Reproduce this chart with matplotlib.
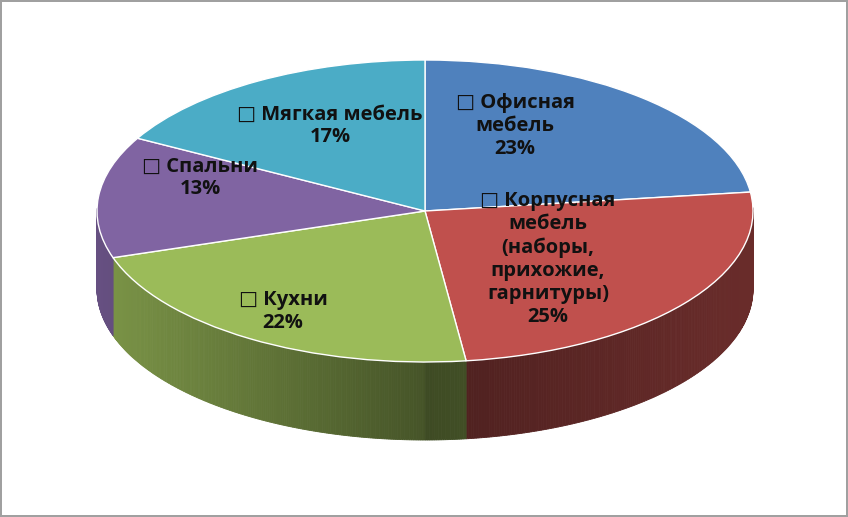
import numpy as np
import matplotlib
matplotlib.use("Agg")
import matplotlib.pyplot as plt
from matplotlib.colors import to_rgb

categories = ["Офисная\nмебель", "Корпусная\nмебель\n(наборы,\nприхожие,\nгарнитуры)", "Кухни", "Спальни", "Мягкая мебель"]
values = [23, 25, 22, 13, 17]
colors = ["#4F81BD", "#C0504D", "#9BBB59", "#8064A2", "#4BACC6"]

W, H = 848, 517
cx, cy, rx, ry, depth = 425, 211, 328, 151, 78

fig = plt.figure(figsize=(W/100, H/100), dpi=100)
ax = fig.add_axes([0, 0, 1, 1])
ax.axis("off")
d = depth/ry

def px(x, y):
    return (x-cx)/rx, (cy-y)/ry

total = sum(values)
start = 90.0
for v, c in zip(values, colors):
    a1 = start - 360*v/total
    a0 = start
    start = a1
    angs = np.linspace(a1, a0, 200)
    for i in range(len(angs)-1):
        t0, t1 = np.radians(angs[i]), np.radians(angs[i+1])
        tm = (t0+t1)/2
        if np.sin(tm) >= 0.02:
            continue
        x0, x1 = np.cos(t0), np.cos(t1)
        y0, y1 = np.sin(t0), np.sin(t1)
        xm = np.cos(tm)
        if xm < 0:
            shade = 0.8 - 0.35*(xm+1)
        else:
            shade = 0.4 + 0.15*xm
        col = tuple(min(1, k*shade) for k in to_rgb(c))
        ax.fill([x0, x1, x1, x0], [y0, y1, y1-d, y0-d], color=col, lw=0.6, ec=col, zorder=1)

ax.pie(values, colors=colors, startangle=90, counterclock=False, radius=1,
       center=(0, 0), wedgeprops=dict(lw=1, ec="white"))
ax.set_aspect("auto")
ax.set_xlim(-cx/rx, (W-cx)/rx)
ax.set_ylim(-(H-cy)/ry, cy/ry)

label_pos = [(515, 126), (548, 259), (283, 311), (200, 178), (330, 126)]
for cat, v, (x, y) in zip(categories, values, label_pos):
    txt = "\u25a1 " + cat + f"\n{v}%"
    ax.text(*px(x, y), txt, ha="center", va="center", fontsize=14.5, fontweight="bold",
            family=["Open Sans", "DejaVu Sans"], linespacing=1.2, zorder=5, color="#111111")

fig.patch.set_edgecolor("#A0A0A0")
fig.patch.set_linewidth(1.5)
fig.savefig("out.png", dpi=100, edgecolor=fig.get_edgecolor())
